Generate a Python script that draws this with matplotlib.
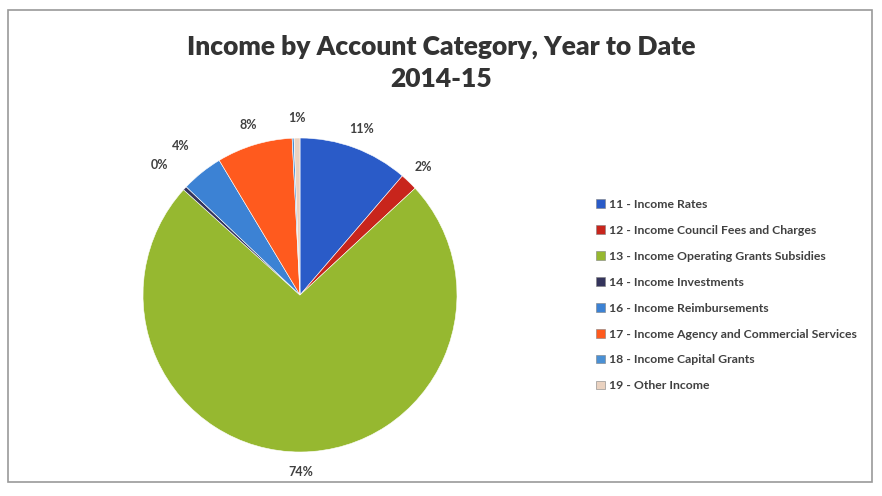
import numpy as np
import matplotlib.pyplot as plt
from matplotlib.patches import Rectangle

# income by account category, share of year-to-date total (%)
categories = [
    "11 - Income Rates",
    "12 - Income Council Fees and Charges",
    "13 - Income Operating Grants Subsidies",
    "14 - Income Investments",
    "16 - Income Reimbursements",
    "17 - Income Agency and Commercial Services",
    "18 - Income Capital Grants",
    "19 - Other Income",
]
shares = [11.3, 1.8, 73.6, 0.4, 4.3, 7.8, 0.2, 0.6]
colors = ["#2a5bc8", "#c8251c", "#96b830", "#34345c",
          "#3c82d4", "#ff5a1e", "#4a90d4", "#ead2c0"]
# capital grants is left unlabelled
shown = [True, True, True, True, True, True, False, True]

W, H = 882, 496
fig = plt.figure(figsize=(W / 100, H / 100), dpi=100)
fig.patch.set_facecolor("white")

# chart frame
fig.add_artist(Rectangle((8 / W, 1 - 482 / H), 864 / W, 472 / H,
                         transform=fig.transFigure, fill=False,
                         edgecolor="#9a9a9a", linewidth=1.2))

fig.text(441 / W, 1 - 47 / H, "Income by Account Category, Year to Date",
         ha="center", va="center", fontsize=19, fontweight="heavy",
         family="Lato", color="#333333")
fig.text(441 / W, 1 - 79 / H, "2014-15", ha="center", va="center",
         fontsize=19, fontweight="heavy", family="Lato", color="#333333")

# pie: centre (300, 295) px, radius 157 px
cx, cy, r, half = 300, 295, 157, 200
ax = fig.add_axes([(cx - half) / W, (H - cy - half) / H,
                   2 * half / W, 2 * half / H])
wedges, _ = ax.pie(shares, colors=colors, startangle=90, counterclock=False,
                   radius=1.0, wedgeprops=dict(linewidth=0.4, edgecolor="white"))
lim = half / r
ax.set_xlim(-lim, lim)
ax.set_ylim(-lim, lim)
ax.set_aspect("equal")
ax.axis("off")

for w, val, show in zip(wedges, shares, shown):
    if not show:
        continue
    mid = np.deg2rad((w.theta1 + w.theta2) / 2)
    # small wedges on the left side sit a little further out
    d = 1.22 if val < 5 and np.cos(mid) < -0.3 else 1.13
    ax.text(d * np.cos(mid), d * np.sin(mid), f"{val:.0f}%",
            ha="center", va="center", fontsize=9, fontweight="bold",
            family="Lato", color="#404040")

handles = [Rectangle((0, 0), 1, 1, facecolor=c, edgecolor="#808080",
                     linewidth=0.4) for c in colors]
fig.legend(handles, categories, loc="upper left",
           bbox_to_anchor=(585 / W, 1 - 188 / H), frameon=False,
           prop=dict(family="Lato", weight="bold", size=8.8),
           labelcolor="#404040", handlelength=0.7, handleheight=0.7,
           handletextpad=0.4, labelspacing=1.22)

fig.savefig("out.png", dpi=100, facecolor="white")
